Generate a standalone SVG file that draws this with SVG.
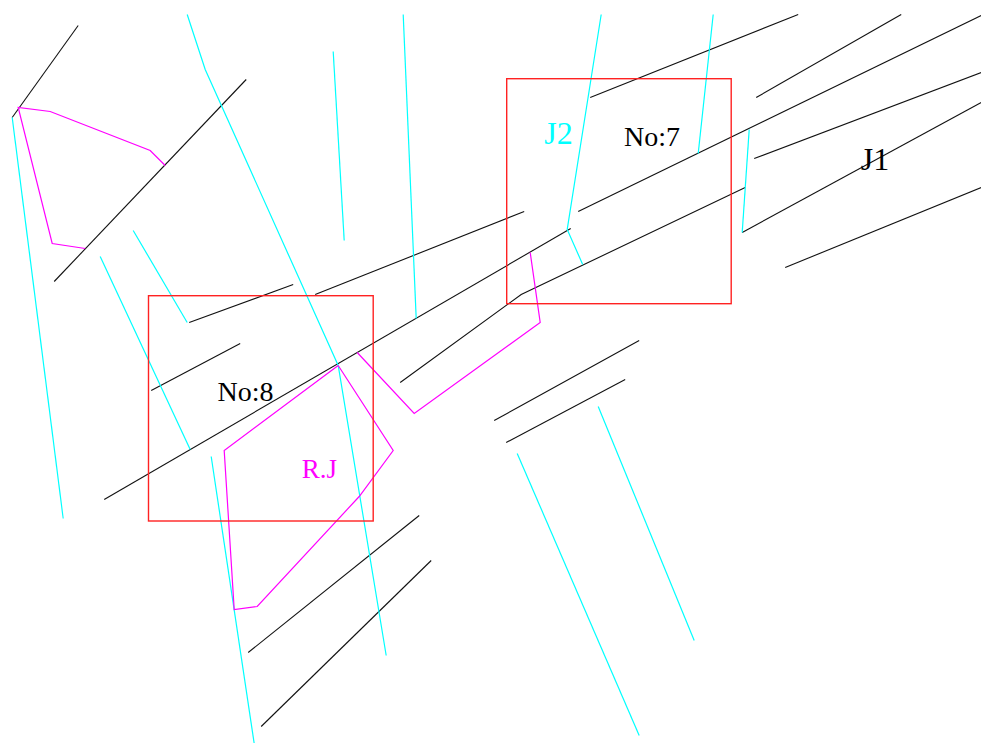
<svg xmlns="http://www.w3.org/2000/svg" width="981" height="743" viewBox="0 0 981 743">
<style>
.b{fill:none;stroke:#111;stroke-width:1.1}
.c{fill:none;stroke:#0ff;stroke-width:1.2}
.m{fill:none;stroke:#f0f;stroke-width:1.2}
.r{fill:none;stroke:#f22;stroke-width:1.4}
text{font-family:"Liberation Serif",serif}
</style>
<rect width="981" height="743" fill="#fff"/>
<g id="connectors" transform="translate(0.2,0.5)">
<g id="lines-black">
<polyline class="b" points="78,25 12,117"/>
<polyline class="b" points="246,79 54,281"/>
<polyline class="b" points="590,97 798,14"/>
<polyline class="b" points="756,97 901,14"/>
<polyline class="b" points="981,15 578,211"/>
<polyline class="b" points="981,72 754,158"/>
<polyline class="b" points="981,102 742,232"/>
<polyline class="b" points="981,187 785,267"/>
<polyline class="b" points="524,211 315,294"/>
<polyline class="b" points="293,284 189,322"/>
<polyline class="b" points="240,343 151,390"/>
<polyline class="b" points="570.500,228 104,499"/>
<polyline class="b" points="745,187 521,294 400,382"/>
<polyline class="b" points="639,340 494,420"/>
<polyline class="b" points="625,379 506,442"/>
<polyline class="b" points="419,515 248,652"/>
<polyline class="b" points="431,560 261,726"/>
</g>
<g id="lines-cyan">
<polyline class="c" points="12,117 63,518"/>
<polyline class="c" points="187,14 205,69 338,365 386,655"/>
<polyline class="c" points="333,51 344,240"/>
<polyline class="c" points="403,14 416,318"/>
<polyline class="c" points="601,14 567,229 582.500,264"/>
<polyline class="c" points="713,14 698,153"/>
<polyline class="c" points="749,129 742,232"/>
<polyline class="c" points="133,230 187,322"/>
<polyline class="c" points="100,256 190,449"/>
<polyline class="c" points="211,456 254,743"/>
<polyline class="c" points="517,453 639,735"/>
<polyline class="c" points="598,406 694,640"/>
</g>
<g id="lines-magenta">
<polyline class="m" points="85,248 52,243 18,107 50,111 150,150 165,165"/>
<polyline class="m" points="338,365 224,450 234,609 257,606 359,496 393,450 338,365"/>
<polyline class="m" points="357,352 414,413 540,322 530,252"/>
</g>
</g>
<g id="node-no7">
<rect class="r" x="506.700" y="78.700" width="224.500" height="225"/>
<text x="652" y="146" font-size="28" text-anchor="middle" fill="#000">No:7</text>
</g>
<g id="node-no8">
<rect class="r" x="148.500" y="295.700" width="224.700" height="225.300"/>
<text x="245.500" y="400.500" font-size="28" text-anchor="middle" fill="#000">No:8</text>
</g>
<text x="558.500" y="144" font-size="32" text-anchor="middle" fill="#0ff">J2</text>
<text x="875" y="170" font-size="32" text-anchor="middle" fill="#000">J1</text>
<text x="319.500" y="478" font-size="27" text-anchor="middle" fill="#f0f">R.J</text>
</svg>
